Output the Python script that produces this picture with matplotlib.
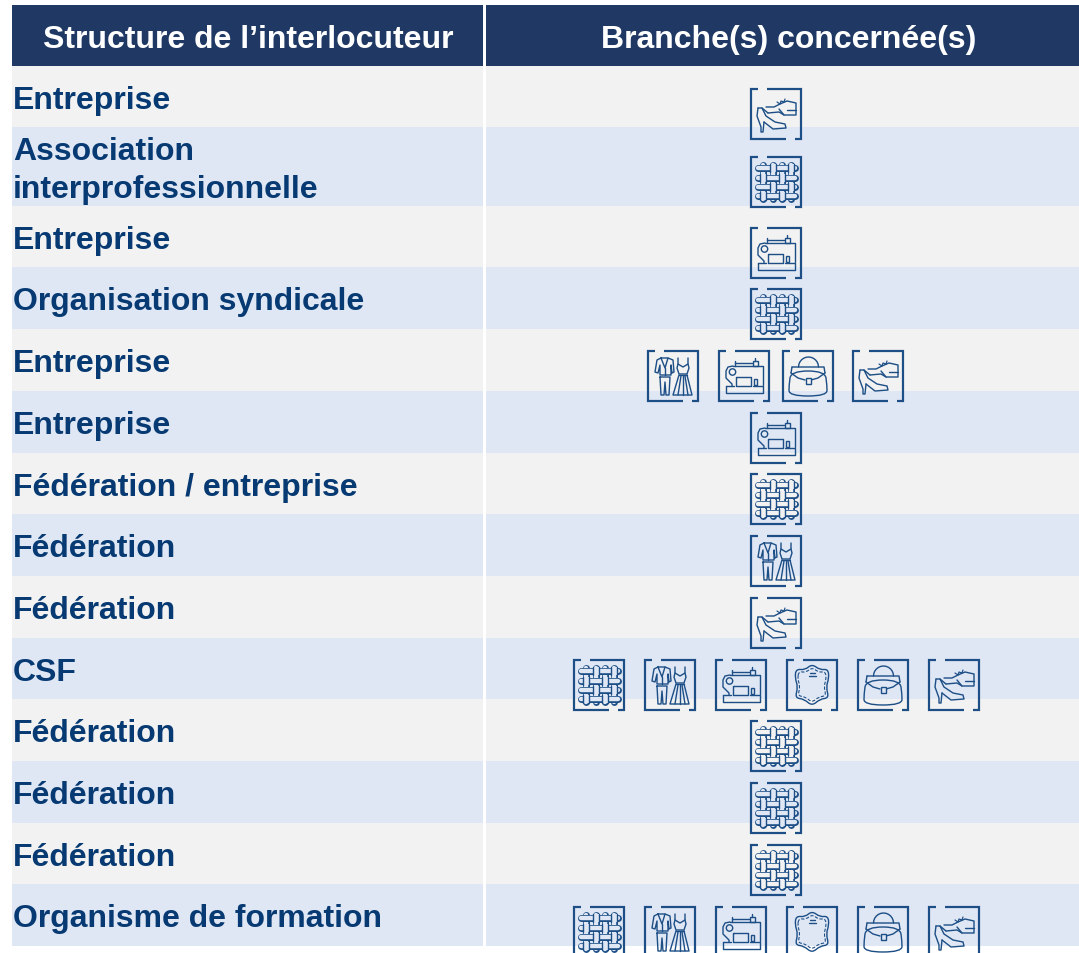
import numpy as np
import matplotlib
matplotlib.use("Agg")
import matplotlib.pyplot as plt
from matplotlib.patches import Rectangle, Circle, PathPatch
from matplotlib.path import Path

plt.rcParams['font.family'] = ['Liberation Sans', 'DejaVu Sans']

headers = ["Structure de l’interlocuteur", "Branche(s) concernée(s)"]
labels = [
    ["Entreprise"],
    ["Association", "interprofessionnelle"],
    ["Entreprise"],
    ["Organisation syndicale"],
    ["Entreprise"],
    ["Entreprise"],
    ["Fédération / entreprise"],
    ["Fédération"],
    ["Fédération"],
    ["CSF"],
    ["Fédération"],
    ["Fédération"],
    ["Fédération"],
    ["Organisme de formation"],
]
branches = [
    ["shoes"],
    ["fabric"],
    ["sewing"],
    ["fabric"],
    ["clothes", "sewing", "bag", "shoes"],
    ["sewing"],
    ["fabric"],
    ["clothes"],
    ["shoes"],
    ["fabric", "clothes", "sewing", "hide", "bag", "shoes"],
    ["fabric"],
    ["fabric"],
    ["fabric"],
    ["fabric", "clothes", "sewing", "hide", "bag", "shoes"],
]
row_edges = [66, 127, 206, 267, 329, 391, 453, 514, 576, 638, 699, 761, 823, 884, 946]
icon_tops = [89, 157, 228, 289, 351, 413, 474, 536, 598, 660, 721, 783, 845, 907]
icon_lefts = {
    1: [751],
    4: [648, 719, 783, 853],
    6: [574, 645, 716, 787, 858, 929],
}

HEADER = "#1f3864"
GREY = "#f2f2f2"
BLUE = "#dfe7f5"
TEXT = "#073a72"
ICON = "#1d4f86"
PX = 0.72  # one pixel in points at dpi 100

fig = plt.figure(figsize=(10.79, 9.54), dpi=100)
ax = fig.add_axes([0, 0, 1, 1])
ax.set_xlim(0, 1079)
ax.set_ylim(953, -1)
ax.axis("off")


def line(x0, y0, pts, lw=1.4, color=ICON, **kw):
    pts = np.array(pts, dtype=float)
    kw.setdefault("solid_joinstyle", "round")
    kw.setdefault("solid_capstyle", "round")
    ax.plot(pts[:, 0] + x0, pts[:, 1] + y0, lw=lw * PX, color=color, **kw)


def smooth_closed(x0, y0, pts, lw=1.4, **kw):
    pts = np.array(pts, dtype=float) + [x0, y0]
    mids = (pts + np.roll(pts, -1, axis=0)) / 2
    verts = [mids[-1]]
    codes = [Path.MOVETO]
    for p, m in zip(pts, mids):
        verts += [p, m]
        codes += [Path.CURVE3, Path.CURVE3]
    ax.add_patch(PathPatch(Path(verts, codes), fc="none", ec=ICON, lw=lw * PX, **kw))


def frame(x0, y0):
    line(x0, y0, [(7, 0), (0, 0), (0, 50), (35, 50)], lw=2.2, solid_joinstyle="miter", solid_capstyle="butt")
    line(x0, y0, [(16, 0), (50, 0), (50, 50), (44, 50)], lw=2.2, solid_joinstyle="miter", solid_capstyle="butt")


def fabric(x0, y0, bg):
    xs = [12, 21.5, 30.5, 39.5]
    ys = [11, 20.5, 29.5, 39]
    for p in xs:
        line(x0, y0, [(p, 8), (p, 42)], lw=7)
        line(x0, y0, [(p, 8), (p, 42)], lw=4.4, color=bg)
    for p in ys:
        line(x0, y0, [(7, p), (44, p)], lw=7)
        line(x0, y0, [(7, p), (44, p)], lw=4.4, color=bg)
    for i, px in enumerate(xs):
        for j, py in enumerate(ys):
            if (i + j) % 2:
                ax.add_patch(Rectangle((x0 + px - 3, y0 + py - 4), 6, 8, fc=bg, ec="none", zorder=3))
                line(x0, y0, [(px - 3, py - 4), (px - 3, py + 4)], zorder=4)
                line(x0, y0, [(px + 3, py - 4), (px + 3, py + 4)], zorder=4)


def clothes(x0, y0, bg):
    # jacket and trousers
    line(x0, y0, [(13, 7), (9, 9), (7, 21), (10, 22), (12, 14), (12, 24), (23, 24),
                  (23, 14), (24, 22), (26, 21), (25, 9), (20, 7), (13, 7)])
    line(x0, y0, [(13, 7), (17, 17), (20, 7)])
    line(x0, y0, [(17, 17), (17, 24)])
    line(x0, y0, [(12, 26), (22, 26), (21, 44), (18, 44), (17, 31), (16, 44), (13, 44), (12, 26)])
    # dress
    line(x0, y0, [(30, 7), (30, 13), (29, 17), (31, 23), (39, 23), (41, 17), (40, 13), (40, 7)])
    line(x0, y0, [(30, 13), (35, 16), (40, 13)])
    line(x0, y0, [(31, 24), (25, 44), (44, 44), (39, 24)])
    line(x0, y0, [(31, 24), (39, 24)])
    for a, b in [(33, 30), (35, 35), (37, 40)]:
        line(x0, y0, [(a, 25), (b, 44)])


def sewing(x0, y0, bg):
    line(x0, y0, [(14, 15), (44, 15), (44, 34)])
    line(x0, y0, [(14, 15), (9, 16), (7, 20), (7, 27), (13, 33), (13, 35)])
    line(x0, y0, [(18, 26), (32, 26), (32, 35), (17, 35), (17, 26), (18, 26)])
    ax.add_patch(Circle((x0 + 13.5, y0 + 21), 3.2, fc="none", ec=ICON, lw=1.4 * PX))
    line(x0, y0, [(7, 35), (7, 42), (44, 42), (44, 35), (34, 35)])
    line(x0, y0, [(7, 35), (15, 35)])
    line(x0, y0, [(16, 12), (33, 12)])
    line(x0, y0, [(16, 10), (16, 15)])
    ax.add_patch(Rectangle((x0 + 33.5, y0 + 10), 5, 5, fc="none", ec=ICON, lw=1.4 * PX))
    line(x0, y0, [(36, 7), (36, 10)])
    ax.add_patch(Rectangle((x0 + 34.5, y0 + 28), 3, 6, fc="none", ec=ICON, lw=1.4 * PX))


hide_outline = [(9, 9), (18, 10), (25, 4), (33, 10), (41, 9), (42, 18), (39, 27), (42, 38),
                (33, 39), (25, 46), (17, 39), (8, 38), (11, 27), (8, 18)]


def hide(x0, y0, bg):
    smooth_closed(x0, y0, hide_outline)
    inner = (np.array(hide_outline, dtype=float) - 25) * 0.84 + 25
    smooth_closed(x0, y0, inner, ls=(0, (3, 1.5)), lw=1.1)
    line(x0, y0, [(23, 13), (28, 13)])
    line(x0, y0, [(22, 16), (29, 16)])


def bag(x0, y0, bg):
    t = np.radians(np.arange(180, 361, 15))
    line(x0, y0, np.column_stack([25.5 + 10 * np.cos(t), 16 + 10 * np.sin(t)]))
    line(x0, y0, [(9, 16), (41, 16), (42, 22)])
    line(x0, y0, [(9, 16), (8, 22)])
    line(x0, y0, [(8, 22), (15, 27), (22, 29)])
    line(x0, y0, [(42, 22), (35, 27), (28, 29)])
    smooth_closed(x0, y0, [(8, 20), (42, 20), (44, 34), (44, 45), (6, 45), (6, 34)])
    ax.add_patch(Rectangle((x0 + 22.5, y0 + 27), 5, 6, fc=bg, ec=ICON, lw=1.4 * PX, zorder=3))


def shoes(x0, y0, bg):
    # loafer
    line(x0, y0, [(15, 18), (23, 18), (29, 15), (36, 12), (45, 14), (45, 26), (33, 26),
                  (28, 23), (17, 24)])
    line(x0, y0, [(36, 21), (45, 21)])
    line(x0, y0, [(28, 20), (33, 26)])
    line(x0, y0, [(26, 13), (29, 15), (30, 12), (33, 13), (34, 10)], lw=1.2)
    # high heel
    line(x0, y0, [(7, 19), (6, 27), (10, 38), (10, 43), (12, 43), (13, 33)])
    line(x0, y0, [(7, 19), (11, 19), (15, 27), (24, 33), (34, 35), (35, 39), (22, 40), (13, 33)])
    line(x0, y0, [(11, 19), (17, 24)])


icons = {"fabric": fabric, "clothes": clothes, "sewing": sewing, "hide": hide, "bag": bag, "shoes": shoes}

# header
ax.add_patch(Rectangle((12, 5), 471, 61, fc=HEADER, ec="none"))
ax.add_patch(Rectangle((486, 5), 593, 61, fc=HEADER, ec="none"))
ax.text(248.5, 47, headers[0], color="white", fontsize=23, fontweight="bold", ha="center", va="baseline")
ax.text(788.5, 47, headers[1], color="white", fontsize=23, fontweight="bold", ha="center", va="baseline")

for i, label in enumerate(labels):
    top, bottom = row_edges[i], row_edges[i + 1]
    bg = GREY if i % 2 == 0 else BLUE
    ax.add_patch(Rectangle((12, top), 471, bottom - top, fc=bg, ec="none"))
    ax.add_patch(Rectangle((486, top), 593, bottom - top, fc=bg, ec="none"))

for i, label in enumerate(labels):
    top, bottom = row_edges[i], row_edges[i + 1]
    base = (top + bottom) / 2 + 11.5 - 19 * (len(label) - 1)
    for k, part in enumerate(label):
        ax.text(13, base + 38 * k, part, color=TEXT, fontsize=23, fontweight="bold", ha="left", va="baseline")

# icons go over the row bands and may run past them
for i, names in enumerate(branches):
    y0 = icon_tops[i]
    for name, x0 in zip(names, icon_lefts[len(names)]):
        mid = y0 + 25
        j = np.searchsorted(row_edges, mid) - 1
        bg = GREY if j % 2 == 0 else BLUE
        frame(x0, y0)
        icons[name](x0, y0, bg)

fig.savefig("out.png", dpi=100)
